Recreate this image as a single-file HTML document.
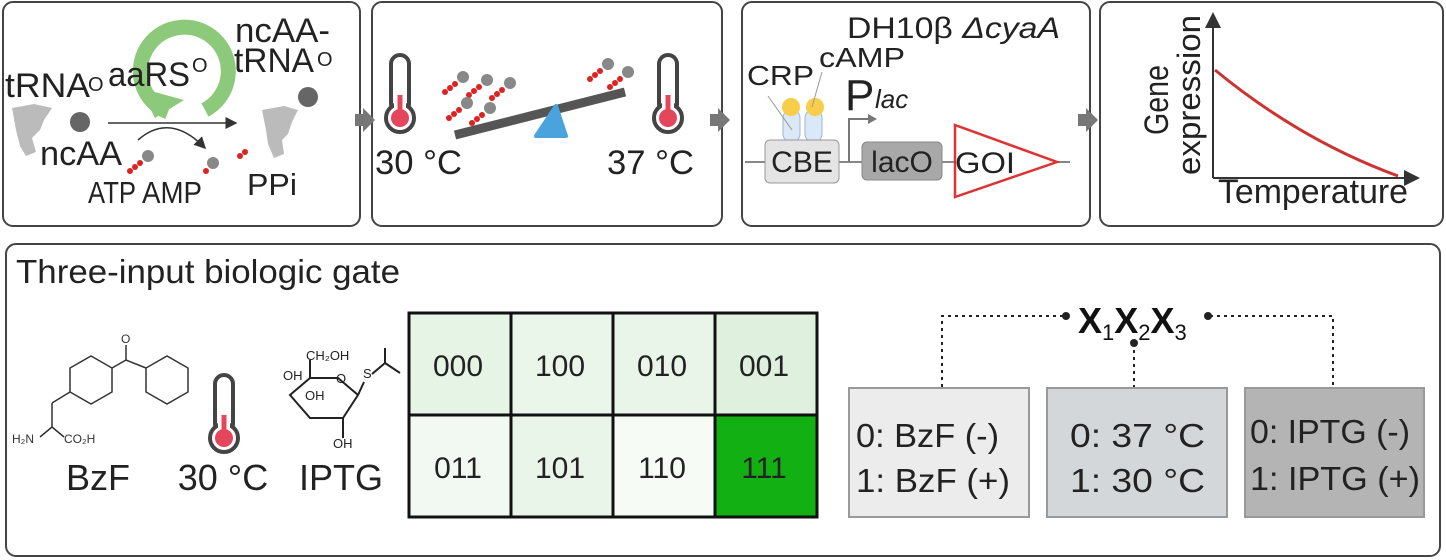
<!DOCTYPE html>
<html><head><meta charset="utf-8"><style>
body{margin:0;background:#fff;width:1446px;height:560px;overflow:hidden;font-family:"Liberation Sans",sans-serif}
svg{display:block}
</style></head><body>
<svg width="1446" height="560" viewBox="0 0 1446 560" font-family="Liberation Sans, sans-serif">
<defs>
<marker id="ah" markerWidth="8" markerHeight="8" refX="7" refY="4" orient="auto"><path d="M0,0 L8,4 L0,8z" fill="#333"/></marker>
<g id="therm">
<rect x="-9" y="-45" width="18" height="58" rx="9" fill="#fff" stroke="#444" stroke-width="4"/>
<circle cx="0" cy="18" r="14" fill="#fff" stroke="#444" stroke-width="4"/>
<rect x="-6" y="-4" width="12" height="20" fill="#fff"/>
<circle cx="0" cy="18" r="9" fill="#e4475c"/>
<rect x="-2.5" y="-5" width="5" height="20" fill="#e4475c"/>
</g>
<g id="mol"><circle cx="0" cy="0" r="6" fill="#888"/><circle cx="-8" cy="7" r="3" fill="#d22"/><circle cx="-13" cy="11" r="3" fill="#d22"/><circle cx="-18" cy="15" r="3" fill="#d22"/></g>
</defs>
<g fill="none" stroke="#444" stroke-width="2">
<rect x="3" y="2" width="357" height="224" rx="10"/>
<rect x="372" y="2" width="350" height="224" rx="10"/>
<rect x="742" y="2" width="348" height="224" rx="10"/>
<rect x="1100" y="2" width="343" height="224" rx="10"/>
<rect x="6" y="244" width="1434" height="312" rx="10"/>
</g>
<g fill="#777">
<path d="M355,114 h8 v-6 l12,12 -12,12 v-6 h-8z"/>
<path d="M710,114 h8 v-6 l12,12 -12,12 v-6 h-8z"/>
<path d="M1078,114 h8 v-6 l12,12 -12,12 v-6 h-8z"/>
</g>
<!-- panel1 -->
<path d="M168,112 A44,44 0 1 1 205,110" fill="none" stroke="#8cc97a" stroke-width="15"/>
<path d="M140,88 L155,118 L184,100z" fill="#8cc97a"/>
<path d="M12,108 l22,-4 18,4 -8,12 -4,10 -8,8 4,14 -10,4 -6,-10 -4,-16z" fill="#bbb"/>
<path d="M262,110 l22,-4 14,4 -6,12 -4,12 -6,6 2,14 -10,4 -6,-14 -2,-14z" fill="#bbb"/>
<circle cx="80" cy="122" r="10" fill="#666"/><circle cx="308" cy="97" r="10" fill="#666"/>
<line x1="108" y1="123" x2="236" y2="123" stroke="#333" stroke-width="1.5" marker-end="url(#ah)"/>
<path d="M138,140 Q170,112 205,148" fill="none" stroke="#333" stroke-width="1.5" marker-end="url(#ah)"/>
<g font-size="34" fill="#222">
<text x="5" y="97" textLength="85" lengthAdjust="spacingAndGlyphs">tRNA</text><text x="88" y="91" font-size="20">O</text>
<text x="108" y="86" textLength="82" lengthAdjust="spacingAndGlyphs">aaRS</text><text x="192" y="72" font-size="20">O</text>
<text x="235" y="42" textLength="95" lengthAdjust="spacingAndGlyphs">ncAA-</text>
<text x="234" y="72" textLength="80" lengthAdjust="spacingAndGlyphs">tRNA</text><text x="317" y="66" font-size="20">O</text>
<text x="40" y="165" textLength="82" lengthAdjust="spacingAndGlyphs">ncAA</text>
</g>
<g font-size="31" fill="#222">
<text x="88" y="203" textLength="48" lengthAdjust="spacingAndGlyphs">ATP</text>
<text x="142" y="203" textLength="60" lengthAdjust="spacingAndGlyphs">AMP</text>
<text x="247" y="195" textLength="50" lengthAdjust="spacingAndGlyphs">PPi</text>
</g>
<use href="#mol" x="148" y="156"/>
<circle cx="213" cy="163" r="6" fill="#888"/><circle cx="206" cy="171" r="3" fill="#d22"/>
<circle cx="240" cy="156" r="3" fill="#d22"/><circle cx="245" cy="152" r="3" fill="#d22"/>
<!-- panel2 -->
<use href="#therm" x="400" y="100"/><use href="#therm" x="668" y="100"/>
<line x1="455" y1="135" x2="625" y2="92" stroke="#555" stroke-width="9"/>
<path d="M536,136 L556,106 L566,136z" fill="#4aa3dc" stroke="#4aa3dc" stroke-width="4" stroke-linejoin="round"/>
<use href="#mol" x="463" y="77"/><use href="#mol" x="487" y="80"/><use href="#mol" x="510" y="83"/>
<use href="#mol" x="467" y="103"/><use href="#mol" x="490" y="108"/>
<use href="#mol" x="608" y="64"/><use href="#mol" x="628" y="72"/>
<text x="375" y="174" font-size="34" fill="#222" textLength="87" lengthAdjust="spacingAndGlyphs">30 °C</text>
<text x="607" y="174" font-size="34" fill="#222" textLength="87" lengthAdjust="spacingAndGlyphs">37 °C</text>
<!-- panel3 -->
<text x="847" y="38" font-size="30" fill="#222" textLength="213" lengthAdjust="spacingAndGlyphs">DH10β <tspan font-style="italic">ΔcyaA</tspan></text>
<text x="819" y="67" font-size="28" fill="#222" textLength="86" lengthAdjust="spacingAndGlyphs">cAMP</text>
<text x="747" y="85" font-size="28" fill="#222" textLength="67" lengthAdjust="spacingAndGlyphs">CRP</text>
<text x="845" y="110" font-size="44" fill="#222">P</text><text x="875" y="108" font-size="26" font-style="italic" fill="#222">lac</text>
<line x1="745" y1="162" x2="1070" y2="162" stroke="#888" stroke-width="2"/>
<rect x="783" y="110" width="17" height="32" rx="8" fill="#dbe8f7" stroke="#9bb8da"/>
<rect x="805" y="110" width="17" height="32" rx="8" fill="#dbe8f7" stroke="#9bb8da"/>
<circle cx="791" cy="107" r="9" fill="#f7cd4a"/><circle cx="815" cy="107" r="9" fill="#f7cd4a"/>
<line x1="768" y1="96" x2="792" y2="130" stroke="#999"/><line x1="822" y1="72" x2="812" y2="107" stroke="#999"/>
<rect x="765" y="140" width="74" height="43" rx="5" fill="#e4e4e4" stroke="#999"/>
<text x="802" y="172" font-size="30" text-anchor="middle" fill="#222">CBE</text>
<path d="M849,162 V119 H870" fill="none" stroke="#777" stroke-width="2"/><path d="M868,114 l9,5 -9,5z" fill="#777"/>
<rect x="862" y="142" width="80" height="38" rx="5" fill="#a8a8a8" stroke="#888"/>
<text x="902" y="172" font-size="30" text-anchor="middle" fill="#222">lacO</text>
<path d="M955,125 L1057,162 L955,197z" fill="#fff" stroke="#d33" stroke-width="2.5"/>
<text x="955" y="173" font-size="30" fill="#222" textLength="60" lengthAdjust="spacingAndGlyphs">GOI</text>
<!-- panel4 -->
<line x1="1213" y1="178" x2="1213" y2="14" stroke="#333" stroke-width="2" marker-end="url(#ah)"/>
<line x1="1213" y1="178" x2="1418" y2="178" stroke="#333" stroke-width="2" marker-end="url(#ah)"/>
<path d="M1215,70 Q1300,140 1398,176" fill="none" stroke="#c33" stroke-width="3"/>
<text transform="translate(1168,100) rotate(-90)" font-size="34" text-anchor="middle" fill="#222" textLength="70" lengthAdjust="spacingAndGlyphs">Gene</text>
<text transform="translate(1200,95) rotate(-90)" font-size="32" text-anchor="middle" fill="#222" textLength="160" lengthAdjust="spacingAndGlyphs">expression</text>
<text x="1218" y="203" font-size="34" fill="#222" textLength="190" lengthAdjust="spacingAndGlyphs">Temperature</text>
<!-- bottom -->
<text x="16" y="283" font-size="33" fill="#222" textLength="384" lengthAdjust="spacingAndGlyphs">Three-input biologic gate</text>
<g fill="none" stroke="#333" stroke-width="1.5">
<polygon points="70,368 70,392 91,404 112,392 112,368 91,356"/>
<polygon points="146,368 146,392 167,404 188,392 188,368 167,356"/>
<line x1="112" y1="368" x2="126" y2="360"/><line x1="126" y1="360" x2="146" y2="368"/><line x1="126" y1="360" x2="126" y2="345"/>
<line x1="70" y1="392" x2="52" y2="403"/><line x1="52" y1="403" x2="52" y2="427"/><line x1="52" y1="427" x2="40" y2="437"/><line x1="52" y1="427" x2="64" y2="437"/>
</g>
<text x="121" y="343" font-size="12" fill="#333">O</text>
<text x="12" y="443" font-size="12" fill="#333">H₂N</text><text x="64" y="443" font-size="12" fill="#333">CO₂H</text>
<use href="#therm" x="224" y="420"/>
<g fill="none" stroke="#222" stroke-width="2">
<path d="M290,395 L310,378 L338,378 L358,395 L343,418 L310,418z"/>
<line x1="310" y1="378" x2="310" y2="360"/><line x1="358" y1="395" x2="364" y2="382"/><line x1="372" y1="374" x2="385" y2="363"/><line x1="385" y1="363" x2="400" y2="373"/><line x1="385" y1="363" x2="385" y2="348"/>
<line x1="343" y1="418" x2="343" y2="438"/>
</g>
<text x="306" y="360" font-size="13" fill="#222">CH₂OH</text>
<text x="283" y="380" font-size="13" fill="#222">OH</text><text x="305" y="400" font-size="13" fill="#222">OH</text>
<text x="333" y="448" font-size="13" fill="#222">OH</text><text x="363" y="378" font-size="13" fill="#222">S</text><text x="336" y="383" font-size="13" fill="#222">O</text>
<text x="98" y="490" font-size="36" text-anchor="middle" fill="#222">BzF</text>
<text x="223" y="490" font-size="36" text-anchor="middle" fill="#222">30 °C</text>
<text x="341" y="490" font-size="36" text-anchor="middle" fill="#222">IPTG</text>
<g stroke="#111" stroke-width="3">
<rect x="409" y="313" width="102" height="102" fill="#e6f4e6"/>
<rect x="511" y="313" width="102" height="102" fill="#ebf6eb"/>
<rect x="613" y="313" width="102" height="102" fill="#eaf5ea"/>
<rect x="715" y="313" width="102" height="102" fill="#dff0df"/>
<rect x="409" y="415" width="102" height="102" fill="#f2f9f2"/>
<rect x="511" y="415" width="102" height="102" fill="#eaf5ea"/>
<rect x="613" y="415" width="102" height="102" fill="#f6fbf6"/>
<rect x="715" y="415" width="102" height="102" fill="#13b013"/>
</g>
<g font-size="30" fill="#222" text-anchor="middle">
<text x="458" y="376">000</text><text x="560" y="376">100</text><text x="662" y="376">010</text><text x="764" y="376">001</text>
<text x="458" y="478">011</text><text x="560" y="478">101</text><text x="662" y="478">110</text><text x="764" y="478">111</text>
</g>
<g fill="none" stroke="#222" stroke-width="2" stroke-dasharray="3,4">
<path d="M942,387 V316 H1064"/><path d="M1210,316 H1333 V387"/><path d="M1134,343 V387"/>
</g>
<circle cx="1066" cy="316" r="4" fill="#222"/><circle cx="1208" cy="316" r="4" fill="#222"/><circle cx="1134" cy="343" r="4" fill="#222"/>
<text x="1078" y="333" font-size="36" font-weight="bold" fill="#111">X<tspan font-size="22" font-weight="normal" dy="7">1</tspan><tspan dy="-7">X</tspan><tspan font-size="22" font-weight="normal" dy="7">2</tspan><tspan dy="-7">X</tspan><tspan font-size="22" font-weight="normal" dy="7">3</tspan></text>
<rect x="849" y="388" width="180" height="129" fill="#ececec" stroke="#999" stroke-width="2"/>
<rect x="1047" y="388" width="180" height="129" fill="#d4d7da" stroke="#999" stroke-width="2"/>
<rect x="1245" y="388" width="179" height="129" fill="#b4b4b4" stroke="#999" stroke-width="2"/>
<g font-size="33" fill="#222">
<text x="856" y="447" textLength="143" lengthAdjust="spacingAndGlyphs">0: BzF (-)</text><text x="856" y="492" textLength="154" lengthAdjust="spacingAndGlyphs">1: BzF (+)</text>
<text x="1070" y="447" textLength="135" lengthAdjust="spacingAndGlyphs">0: 37 °C</text><text x="1070" y="492" textLength="135" lengthAdjust="spacingAndGlyphs">1: 30 °C</text>
<text x="1250" y="443" textLength="160" lengthAdjust="spacingAndGlyphs">0: IPTG (-)</text><text x="1250" y="490" textLength="170" lengthAdjust="spacingAndGlyphs">1: IPTG (+)</text>
</g>
</svg>
</body></html>
